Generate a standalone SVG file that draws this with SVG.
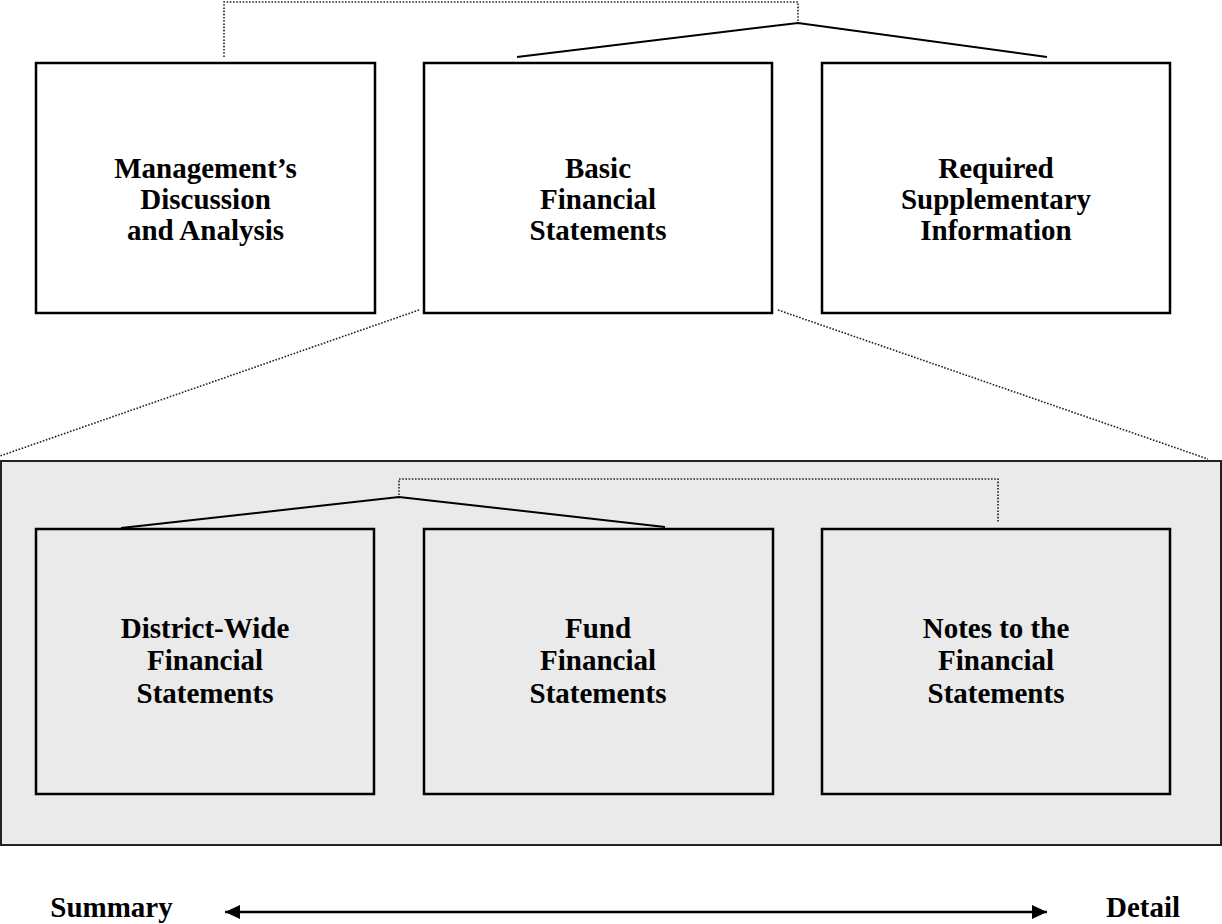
<svg xmlns="http://www.w3.org/2000/svg" width="1222" height="924" viewBox="0 0 1222 924">
<style>
.box{fill:#ffffff;stroke:#000;stroke-width:2.5}
.gbox{fill:#eaeaea;stroke:#000;stroke-width:2.5}
.outer{fill:#eaeaea;stroke:#222;stroke-width:2}
.lbl{font-family:"Liberation Serif","Times New Roman",serif;font-weight:bold;font-size:29px;text-anchor:middle;fill:#000}
.solid{fill:none;stroke:#000;stroke-width:2}
.dot{fill:none;stroke:#222;stroke-width:1.6;stroke-dasharray:1.6 1.6}
.arrow{fill:none;stroke:#000;stroke-width:2.5}
</style>
<defs>
<marker id="ah" viewBox="0 0 15 14" refX="15" refY="7" markerWidth="15" markerHeight="14" markerUnits="userSpaceOnUse" orient="auto-start-reverse">
<path d="M0,0 L15,7 L0,14 Z" fill="#000"/>
</marker>
</defs>
<rect id="detail-panel" class="outer" x="1" y="461" width="1220" height="384"/>
<g id="connectors">
<polyline class="dot" points="224,57 224,2 798,2 798,23"/>
<polyline class="solid" points="517,57 798,23 1047,57"/>
<line class="dot" x1="419" y1="310" x2="0" y2="456"/>
<line class="dot" x1="778" y1="310" x2="1208" y2="459"/>
<polyline class="dot" points="399,495 399,479 998,479 998,523"/>
<polyline class="solid" points="121,528 399,497 665,527"/>
<line class="arrow" x1="225" y1="912" x2="1047" y2="912" marker-start="url(#ah)" marker-end="url(#ah)"/>
</g>
<g id="mda">
<rect class="box" x="36" y="63" width="339" height="250"/>
<text class="lbl" x="205.5" y="178">Management’s</text>
<text class="lbl" x="205.5" y="209">Discussion</text>
<text class="lbl" x="205.5" y="240">and Analysis</text>
</g>
<g id="bfs">
<rect class="box" x="424" y="63" width="348" height="250"/>
<text class="lbl" x="598" y="178">Basic</text>
<text class="lbl" x="598" y="209">Financial</text>
<text class="lbl" x="598" y="240">Statements</text>
</g>
<g id="rsi">
<rect class="box" x="822" y="63" width="348" height="250"/>
<text class="lbl" x="996" y="178">Required</text>
<text class="lbl" x="996" y="209">Supplementary</text>
<text class="lbl" x="996" y="240">Information</text>
</g>
<g id="dwfs">
<rect class="gbox" x="36" y="529" width="338" height="265"/>
<text class="lbl" x="205" y="638">District-Wide</text>
<text class="lbl" x="205" y="670">Financial</text>
<text class="lbl" x="205" y="703">Statements</text>
</g>
<g id="ffs">
<rect class="gbox" x="424" y="529" width="349" height="265"/>
<text class="lbl" x="598" y="638">Fund</text>
<text class="lbl" x="598" y="670">Financial</text>
<text class="lbl" x="598" y="703">Statements</text>
</g>
<g id="notes">
<rect class="gbox" x="822" y="529" width="348" height="265"/>
<text class="lbl" x="996" y="638">Notes to the</text>
<text class="lbl" x="996" y="670">Financial</text>
<text class="lbl" x="996" y="703">Statements</text>
</g>
<g id="summary">
<text class="lbl" x="111.5" y="917">Summary</text>
</g>
<g id="detail">
<text class="lbl" x="1143" y="917">Detail</text>
</g>
</svg>
